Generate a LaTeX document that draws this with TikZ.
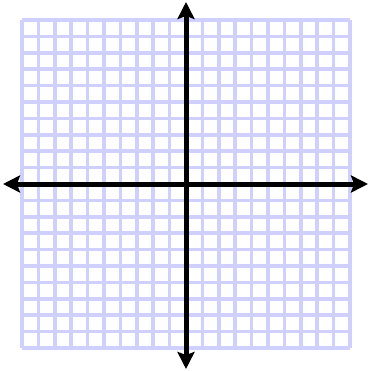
\documentclass[tikz,border=0pt]{standalone}
\usetikzlibrary{arrows.meta}
\definecolor{gridblue}{RGB}{208,208,255}
\begin{document}
\begin{tikzpicture}[x=1pt,y=-1pt,
  gridline/.style={draw=gridblue,line width=3.5pt},
  axisline/.style={draw=black,line width=5pt,{Stealth[length=17pt,width=17pt,inset=3pt]}-{Stealth[length=17pt,width=17pt,inset=3pt]}}]
\useasboundingbox (0,0) rectangle (370,371);
\foreach \i in {0,...,20}{
  \draw[gridline] ({22+\i*16.4},20) -- ({22+\i*16.4},348);
  \draw[gridline] (22,{20+\i*16.4}) -- (350,{20+\i*16.4});
}
\coordinate (xl) at (3,184);
\coordinate (xr) at (368,184);
\coordinate (yt) at (186,2);
\coordinate (yb) at (186,369);
\draw[axisline] (xl) -- (xr);
\draw[axisline] (yt) -- (yb);
\end{tikzpicture}
\end{document}
